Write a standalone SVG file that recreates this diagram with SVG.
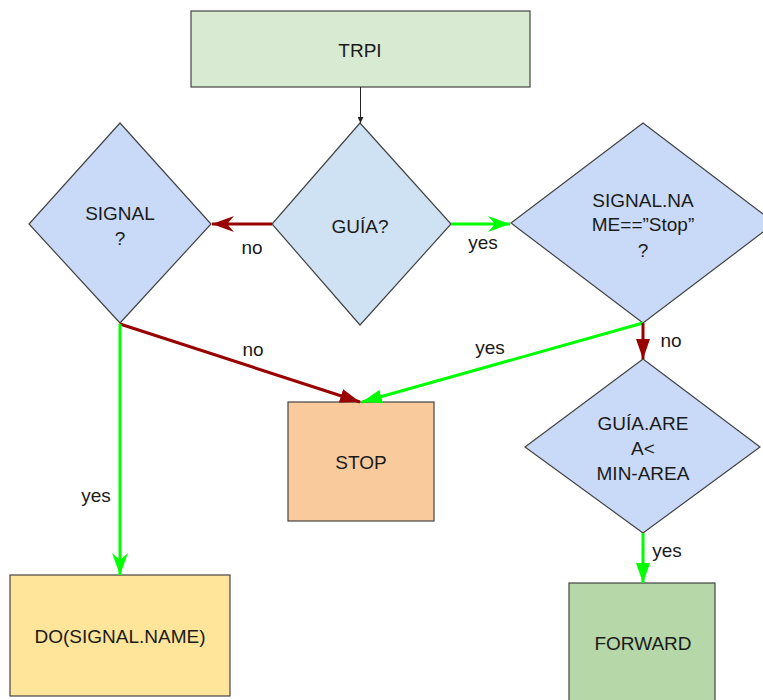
<svg xmlns="http://www.w3.org/2000/svg" width="763" height="700" viewBox="0 0 763 700">
<defs>
<style>
text{font-family:"Liberation Sans",Arial,sans-serif;font-size:19px;fill:#1a1a1a;text-anchor:middle}
.nd{stroke:#434343;stroke-width:1.2}
.red{stroke:#990000;stroke-width:3;fill:none}
.grn{stroke:#00ff00;stroke-width:3;fill:none}
.blk{stroke:#222;stroke-width:1;fill:none}
</style>
<marker id="nRed" markerUnits="userSpaceOnUse" markerWidth="22" markerHeight="16" refX="22" refY="8" orient="auto"><path d="M0,0 L22,8 L0,16 L7,8 Z" fill="#990000"/></marker>
<marker id="nGrn" markerUnits="userSpaceOnUse" markerWidth="22" markerHeight="16" refX="22" refY="8" orient="auto"><path d="M0,0 L22,8 L0,16 L7,8 Z" fill="#00ff00"/></marker>
<marker id="tRed" markerUnits="userSpaceOnUse" markerWidth="20" markerHeight="14" refX="20" refY="7" orient="auto"><path d="M0,0 L20,7 L0,14 Z" fill="#990000"/></marker>
<marker id="tGrn" markerUnits="userSpaceOnUse" markerWidth="20" markerHeight="14" refX="20" refY="7" orient="auto"><path d="M0,0 L20,7 L0,14 Z" fill="#00ff00"/></marker>
<marker id="tBlk" markerUnits="userSpaceOnUse" markerWidth="6" markerHeight="6" refX="6" refY="3" orient="auto"><path d="M0,0 L6,3 L0,6 Z" fill="#222"/></marker>
</defs>
<rect width="763" height="700" fill="#ffffff"/>
<g id="trpi"><rect class="nd" x="191" y="11" width="339" height="76" fill="#d9ead3"/><text x="360" y="57">TRPI</text></g>
<g id="guia"><polygon class="nd" points="360,123 451,224 360,325 272,224" fill="#cfe2f3"/><text x="360" y="233">GUÍA?</text></g>
<g id="signal"><polygon class="nd" points="120,123 211,224 120,323 29,224" fill="#c9daf8"/><text x="120" y="220">SIGNAL</text><text x="120" y="245">?</text></g>
<g id="signalname"><polygon class="nd" points="643,123 775,223 643,323 511,223" fill="#c9daf8"/><text x="643" y="207">SIGNAL.NA</text><text x="643" y="231">ME==”Stop”</text><text x="643" y="257">?</text></g>
<g id="guiaarea"><polygon class="nd" points="643,359 760,447 643,533 525,447" fill="#c9daf8"/><text x="643" y="430">GUÍA.ARE</text><text x="643" y="455">A&lt;</text><text x="643" y="480">MIN-AREA</text></g>
<g id="stop"><rect class="nd" x="288" y="402" width="146" height="119" fill="#f9cb9c"/><text x="361" y="469">STOP</text></g>
<g id="do"><rect class="nd" x="10" y="575" width="220" height="121" fill="#ffe599"/><text x="120" y="643">DO(SIGNAL.NAME)</text></g>
<g id="forward"><rect class="nd" x="569" y="583" width="146" height="130" fill="#b6d7a8"/><text x="643" y="650">FORWARD</text></g>
<g id="connectors">
<line class="blk" x1="360.5" y1="87" x2="360.5" y2="123" marker-end="url(#tBlk)"/>
<line class="red" x1="272" y1="224" x2="212" y2="224" marker-end="url(#nRed)"/>
<line class="grn" x1="451" y1="224" x2="510" y2="224" marker-end="url(#nGrn)"/>
<line class="red" x1="120" y1="324" x2="360" y2="402" marker-end="url(#tRed)"/>
<line class="grn" x1="643" y1="323" x2="362" y2="402" marker-end="url(#tGrn)"/>
<line class="red" x1="643" y1="323" x2="643" y2="359" marker-end="url(#tRed)"/>
<line class="grn" x1="120" y1="324" x2="120" y2="575" marker-end="url(#nGrn)"/>
<line class="grn" x1="643" y1="533" x2="643" y2="583" marker-end="url(#tGrn)"/>
</g>
<g id="labels">
<text x="252" y="254">no</text>
<text x="483" y="249">yes</text>
<text x="253" y="356">no</text>
<text x="490" y="354">yes</text>
<text x="671" y="347">no</text>
<text x="96" y="502">yes</text>
<text x="667" y="557">yes</text>
</g>
</svg>
